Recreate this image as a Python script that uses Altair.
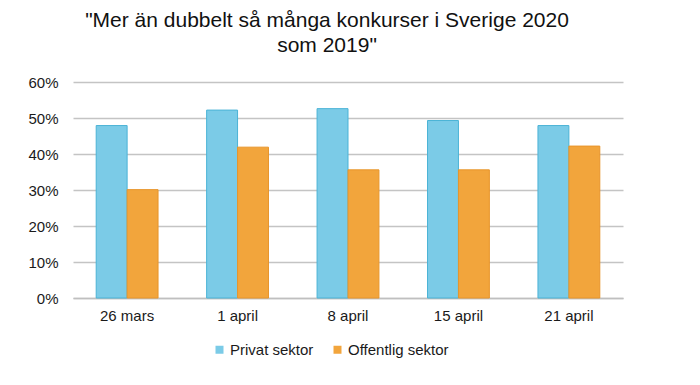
import altair as alt
import pandas as pd

categories = ["26 mars", "1 april", "8 april", "15 april", "21 april"]
series = ["Privat sektor", "Offentlig sektor"]
privat = [0.479, 0.522, 0.526, 0.493, 0.479]
offentlig = [0.301, 0.419, 0.356, 0.356, 0.422]

rows = []
for c, p, o in zip(categories, privat, offentlig):
    rows.append({"datum": c, "sektor": series[0], "andel": p})
    rows.append({"datum": c, "sektor": series[1], "andel": o})
df = pd.DataFrame(rows)

FONT = "Liberation Sans"

chart = alt.Chart(df).mark_bar(strokeWidth=1).encode(
    x=alt.X("datum:N", sort=categories, title=None,
            scale=alt.Scale(paddingInner=0.44, paddingOuter=0.21),
            axis=alt.Axis(labelAngle=0, labelFontSize=15, labelFont=FONT,
                          labelColor="#1a1a1a", labelPadding=10, ticks=False,
                          domainColor="#bfbfbf", domainWidth=1.3, grid=False)),
    xOffset=alt.XOffset("sektor:N", sort=series),
    y=alt.Y("andel:Q", title=None,
            scale=alt.Scale(domain=[0, 0.6]),
            axis=alt.Axis(format=".0%", values=[0, 0.1, 0.2, 0.3, 0.4, 0.5, 0.6],
                          labelFontSize=15, labelFont=FONT, labelColor="#1a1a1a",
                          labelPadding=15, ticks=False, domain=False,
                          gridColor="#c4c4c4", gridWidth=1.3)),
    color=alt.Color("sektor:N", sort=series,
                    scale=alt.Scale(domain=series, range=["#7BCBE7", "#F2A53C"]),
                    legend=alt.Legend(title=None, orient="none", direction="horizontal",
                                      legendX=139, legendY=260,
                                      symbolType="square", symbolSize=64,
                                      symbolStrokeWidth=0,
                                      labelFontSize=15, labelFont=FONT,
                                      labelColor="#1a1a1a", columnPadding=16,
                                      labelOffset=3)),
    stroke=alt.Stroke("sektor:N", sort=series,
                      scale=alt.Scale(domain=series, range=["#4BB3D6", "#E8952A"]),
                      legend=None),
).properties(
    width=550, height=216,
    title=alt.TitleParams(
        text=['"Mer än dubbelt så många konkurser i Sverige 2020', 'som 2019"'],
        font=FONT, fontSize=21, fontWeight="normal", color="#111111",
        anchor="middle", dx=-21, offset=19, lineHeight=25),
    autosize=alt.AutoSizeParams(type="none"),
    padding={"left": 65, "top": 74, "right": 55, "bottom": 70},
).configure(background="white").configure_view(strokeWidth=0)

chart.save("out.html", embed_options={"renderer": "svg", "actions": False})
